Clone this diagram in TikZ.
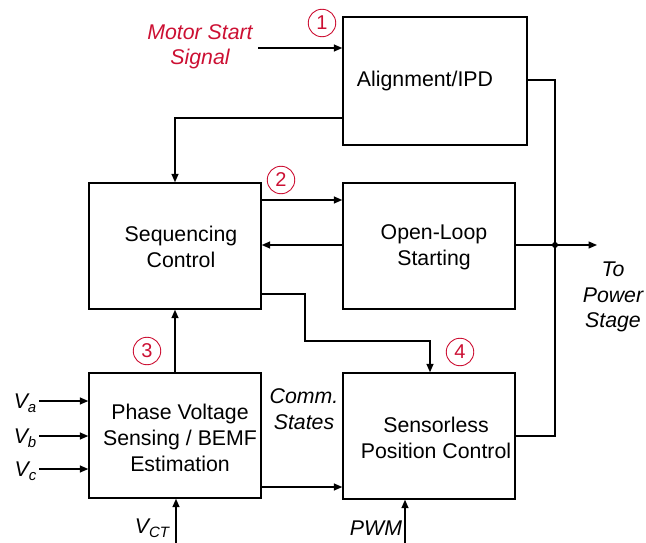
\documentclass[tikz,border=0pt]{standalone}
\usepackage{fontspec}
\setmainfont{Liberation Sans}
\usetikzlibrary{arrows.meta}
\definecolor{tired}{RGB}{204,16,51}
\newcommand{\mysub}[1]{\raisebox{-0.35ex}{\fontsize{15}{15}\selectfont #1}}
\begin{document}
\begin{tikzpicture}[x=1pt,y=-1pt,
  line width=1.4pt,
  blk/.style={draw,rectangle,inner sep=0pt},
  txt/.style={align=center,font=\fontsize{21.3}{26}\selectfont,inner sep=0pt},
  itxt/.style={align=center,font=\fontsize{21.3}{25.5}\selectfont\itshape,inner sep=0pt},
  arr/.style={-{Triangle[length=8.5pt,width=7pt]}},
  num/.style={draw=tired,circle,line width=0.9pt,minimum size=27.5pt,inner sep=0pt,text=tired,font=\fontsize{20}{20}\selectfont}
]
\useasboundingbox (0,0) rectangle (646,543);
% blocks
\node[blk,minimum width=184pt,minimum height=128pt] (align) at (435,81) {};
\node[blk,minimum width=172pt,minimum height=126pt] (seq) at (175,246) {};
\node[blk,minimum width=172pt,minimum height=126pt] (olp) at (429,246) {};
\node[blk,minimum width=172pt,minimum height=125pt] (phase) at (175,435.5) {};
\node[blk,minimum width=172pt,minimum height=126pt] (sens) at (429,436) {};
% block texts
\node[txt] (talign) at (425,81) {Alignment/IPD};
\node[txt] (tseq) at (181,247) {Sequencing\\Control};
\node[txt] (tolp) at (434,247) {Open-Loop\\Starting};
\node[txt] (tphase) at (180,437.5) {Phase Voltage\\Sensing / BEMF\\Estimation};
\node[txt] (tsens) at (436,437.5) {Sensorless\\Position Control};
% numbered circles
\node[num] (n1) at (322,23) {1};
\node[num] (n2) at (281,180) {2};
\node[num] (n3) at (147,351) {3};
\node[num] (n4) at (460,352) {4};
% labels
\node[itxt,text=tired] (lms) at (200,47) {Motor Start\\Signal};
\node[itxt] (lps) at (613,297) {To\\Power\\Stage};
\node[itxt] (lcs) at (304,409) {Comm.\\States};
\node[itxt,anchor=east] (lva) at (37,403) {V\mysub{a}};
\node[itxt,anchor=east] (lvb) at (37,438) {V\mysub{b}};
\node[itxt,anchor=east] (lvc) at (37,471) {V\mysub{c}};
\node[itxt] (lvct) at (152,528) {V\mysub{CT}};
\node[itxt] (lpwm) at (376,528) {PWM};
% coordinates
\coordinate (ms) at (258,48);
\coordinate (j) at (555,245);
\coordinate (ps) at (597,245);
\coordinate (vct) at (176,543);
\coordinate (pwm) at (405,543);
\coordinate (va) at (39,401);
\coordinate (vb) at (39,436);
\coordinate (vc) at (39,469);
% connectors
\draw[arr] (ms) -- (ms -| align.west);
\draw (align.east |- 0,80) -| (j);
\draw (sens.east |- 0,436) -| (j);
\draw[arr] (olp.east |- j) -- (ps);
\fill (j) circle (3pt);
\draw[arr] (align.west |- 0,118) -| (seq.north);
\draw[arr] (seq.east |- 0,200) -- (olp.west |- 0,200);
\draw[arr] (olp.west |- 0,245) -- (seq.east |- 0,245);
\draw[arr] (seq.east |- 0,294) -| (305,341) -| (sens.north -| 430,0);
\draw[arr] (phase.north) -- (seq.south);
\draw[arr] (va) -- (va -| phase.west);
\draw[arr] (vb) -- (vb -| phase.west);
\draw[arr] (vc) -- (vc -| phase.west);
\draw[arr] (phase.east |- 0,487) -- (sens.west |- 0,487);
\draw[arr] (vct) -- (vct |- phase.south);
\draw[arr] (pwm) -- (pwm |- sens.south);
\end{tikzpicture}
\end{document}
